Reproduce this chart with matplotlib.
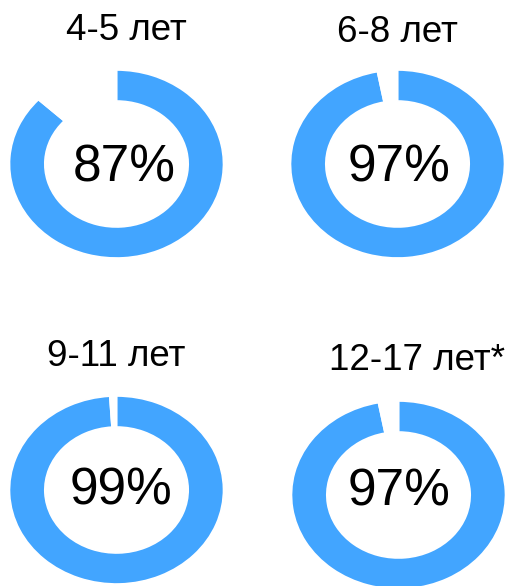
import matplotlib
matplotlib.use("Agg")
import matplotlib.pyplot as plt

# данные
groups = ["4-5 лет", "6-8 лет", "9-11 лет", "12-17 лет*"]
values = [87, 97, 99, 97]
labels = ["87%", "97%", "99%", "97%"]

W, H = 509, 586
color = "#42a5ff"

plt.rcParams["font.family"] = ["Liberation Sans", "DejaVu Sans"]

fig = plt.figure(figsize=(W / 100, H / 100), dpi=100)

# центры колец в пикселях (x, y сверху), полуоси
centers = [(116.5, 164), (397.5, 164), (116.5, 490), (398.5, 495)]
rx, ry = 107, 94
title_pos = [(126, 31), (397, 32), (116, 356), (417, 361)]
label_pos = [(124, 168), (399, 168), (121, 491), (399, 492)]

for i in range(4):
    cx, cy = centers[i]
    ax = fig.add_axes([(cx - rx) / W, (H - cy - ry) / H, 2 * rx / W, 2 * ry / H])
    ax.pie([values[i], 100 - values[i]], colors=[color, "none"], startangle=90,
           counterclock=False, radius=1,
           wedgeprops=dict(width=0.33, edgecolor="white", linewidth=1.2))
    ax.set_aspect("auto")
    ax.set_xlim(-1, 1)
    ax.set_ylim(-1, 1)
    ax.axis("off")

    tx, ty = title_pos[i]
    fig.text(tx / W, 1 - ty / H, groups[i], ha="center", va="center", fontsize=26.5)
    lx, ly = label_pos[i]
    fig.text(lx / W, 1 - ly / H, labels[i], ha="center", va="center", fontsize=37)

plt.savefig("out.png", dpi=100)
